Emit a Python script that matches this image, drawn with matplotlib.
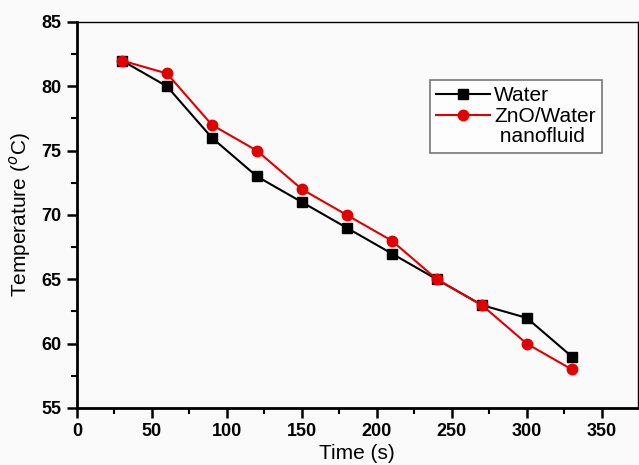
import matplotlib
matplotlib.use("Agg")
import matplotlib.pyplot as plt
from matplotlib.lines import Line2D
from matplotlib.ticker import MultipleLocator

# data
time_s = [30, 60, 90, 120, 150, 180, 210, 240, 270, 300, 330]
water = [82, 80, 76, 73, 71, 69, 67, 65, 63, 62, 59]
zno_water = [82, 81, 77, 75, 72, 70, 68, 65, 63, 60, 58]

plt.rcParams['font.family'] = ['Liberation Sans', 'DejaVu Sans']

fig = plt.figure(figsize=(6.39, 4.65), dpi=100)
fig.patch.set_facecolor('#fafafa')
ax = fig.add_axes([0.1205, 0.1226, 0.8775, 0.8301])
ax.set_facecolor('#fafafa')

h1, = ax.plot(time_s, water, color='black', marker='s', markersize=7, lw=1.5)
h2, = ax.plot(time_s, zno_water, color='#e00000', marker='o', markersize=7.5, lw=1.5)

ax.set_xlim(0, 374)
ax.set_ylim(55, 85)
ax.xaxis.set_major_locator(MultipleLocator(50))
ax.xaxis.set_minor_locator(MultipleLocator(25))
ax.yaxis.set_major_locator(MultipleLocator(5))
ax.yaxis.set_minor_locator(MultipleLocator(2.5))
ax.tick_params(which='major', direction='out', length=7, width=1.8, labelsize=13, pad=4)
ax.tick_params(which='minor', direction='out', length=4, width=1.5)
for lab in ax.get_xticklabels() + ax.get_yticklabels():
    lab.set_fontweight('bold')

ax.spines['left'].set_linewidth(2)
ax.spines['bottom'].set_linewidth(2)
ax.spines['top'].set_linewidth(1)
ax.spines['right'].set_linewidth(1)

ax.set_xlabel('Time (s)', fontsize=15, labelpad=3)
ax.set_ylabel('Temperature ($^{o}$C)', fontsize=15, labelpad=6)

# the second label wraps onto a row without a handle
blank = Line2D([], [], linestyle='none', marker='none')
leg = ax.legend([h1, h2, blank], ['Water', 'ZnO/Water', ' nanofluid'],
                loc='upper left', bbox_to_anchor=(0.629, 0.85), borderaxespad=0,
                fontsize=15, frameon=True, fancybox=False, handlelength=2.6,
                borderpad=0.3, labelspacing=0.08, handletextpad=0.2)
leg.get_frame().set_edgecolor('#555555')
leg.get_frame().set_facecolor('white')
leg.get_frame().set_linewidth(1.2)

fig.savefig('out.png', dpi=100, facecolor=fig.get_facecolor())
